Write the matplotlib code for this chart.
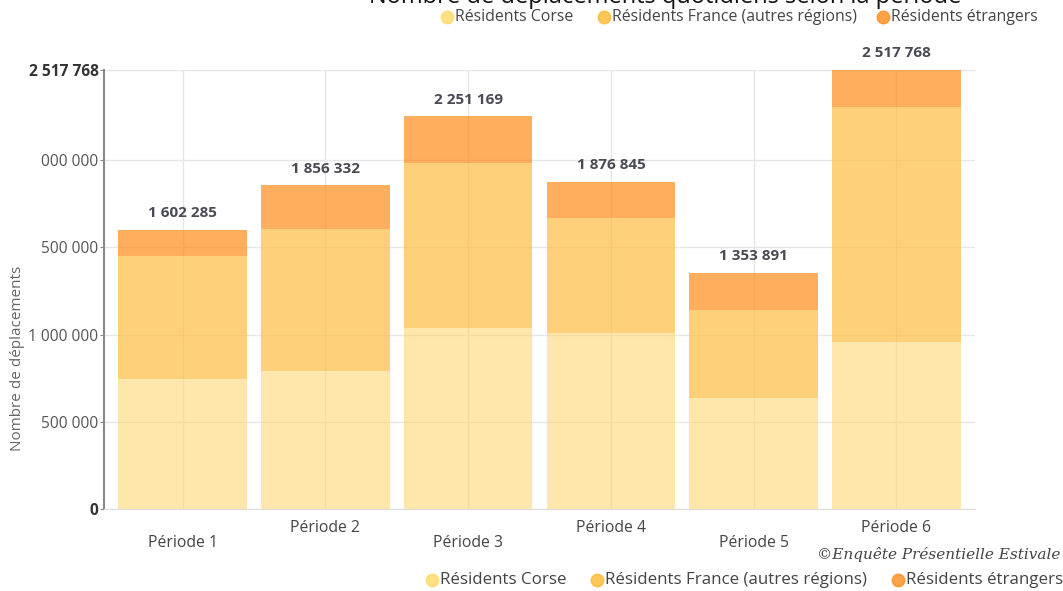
import matplotlib
matplotlib.use("Agg")
import matplotlib.pyplot as plt
from matplotlib.lines import Line2D
from matplotlib.transforms import blended_transform_factory

plt.rcParams['font.family'] = ['Open Sans', 'DejaVu Sans']

periods = ["Période 1", "Période 2", "Période 3", "Période 4", "Période 5", "Période 6"]
series_names = ["Résidents Corse", "Résidents France (autres régions)", "Résidents étrangers"]
corse = [743000, 794000, 1040000, 1011000, 634000, 960000]
france = [708000, 812000, 943000, 658000, 505000, 1343000]
etrangers = [151285, 250332, 268169, 207845, 214891, 214768]
totals = [1602285, 1856332, 2251169, 1876845, 1353891, 2517768]
ytick_values = [0, 500000, 1000000, 1500000, 2000000, 2517768]
ytick_labels = ["0", "500 000", "1 000 000", "500 000", "000 000", "2 517 768"]
title = "Nombre de déplacements quotidiens selon la période"
ylabel = "Nombre de déplacements"
caption = "©Enquête Présentielle Estivale"

bar_colors = ["#FFD466", "#FFB833", "#FF8C1A"]
bar_alpha = [0.55, 0.65, 0.7]
legend_colors = ["#FFD966", "#FFB830", "#FF8C1A"]

W, H = 1063, 591
fig = plt.figure(figsize=(W / 100, H / 100), dpi=100)
ax = fig.add_axes([104 / W, 1 - 509 / H, (975 - 104) / W, (509 - 70) / H])

x = list(range(len(periods)))
bottom = [0] * len(periods)
for vals, col, a in zip([corse, france, etrangers], bar_colors, bar_alpha):
    ax.bar(x, vals, width=0.9, bottom=bottom, color=col, alpha=a, linewidth=0, zorder=2)
    bottom = [b + v for b, v in zip(bottom, vals)]

for xi, t in zip(x, totals):
    lab = f"{t:,}".replace(",", " ")
    ax.annotate(lab, (xi, t), xytext=(0, 7), textcoords="offset points",
                ha="center", va="bottom", fontsize=11, fontweight="bold", color="#4a4a55")

ax.set_xlim(-0.55, 5.55)
ax.set_ylim(0, max(totals))
ax.set_yticks(ytick_values)
ax.set_yticklabels(ytick_labels)
for i, lab in enumerate(ax.get_yticklabels()):
    lab.set_fontsize(11.2)
    if i in (0, len(ytick_labels) - 1):
        lab.set_fontweight("bold")
        lab.set_color("#333333")
    else:
        lab.set_color("#555555")
ax.tick_params(axis="y", length=3, color="#888888", pad=1)
ax.set_xticks(x)
ax.set_xticklabels([""] * len(x))
ax.tick_params(axis="x", length=0)

trans = blended_transform_factory(ax.transData, ax.transAxes)
ax_h = 509 - 70
for xi, p in zip(x, periods):
    ypix = 543 if xi % 2 == 0 else 528
    ax.text(xi, -(ypix - 509) / ax_h, p, transform=trans, ha="center", va="center",
            fontsize=11.3, color="#444444")

ax.grid(True, color="#e6e6e6", linewidth=1, zorder=0)
ax.set_axisbelow(True)
for s in ["top", "right"]:
    ax.spines[s].set_visible(False)
ax.spines["left"].set_color("#888888")
ax.spines["left"].set_linewidth(1.5)
ax.spines["bottom"].set_color("#dddddd")

fig.text(18 / W, 1 - 358 / H, ylabel, rotation=90, ha="center", va="center",
         fontsize=11, color="#666666")

fig.text(665 / W, 1 + 3 / H, title, ha="center", va="center", fontsize=17, color="#111111")

def legend_row(xs_marker, y_pix, fs):
    for name, col, xm in zip(series_names, legend_colors, xs_marker):
        fig.add_artist(Line2D([xm / W], [1 - y_pix / H], marker="o", markersize=9,
                              color=col, alpha=0.8, linestyle="none",
                              transform=fig.transFigure))
        fig.text((xm + 8) / W, 1 - y_pix / H, name, ha="left", va="center",
                 fontsize=fs, color="#444444")

legend_row([447, 604, 883], 17, 11.4)
legend_row([432, 597, 898], 580, 12.2)

fig.text(1060 / W, 1 - 555 / H, caption, ha="right", va="center", fontsize=11,
         family="DejaVu Serif", style="italic", color="#444444")

fig.savefig("out.png", dpi=100)
